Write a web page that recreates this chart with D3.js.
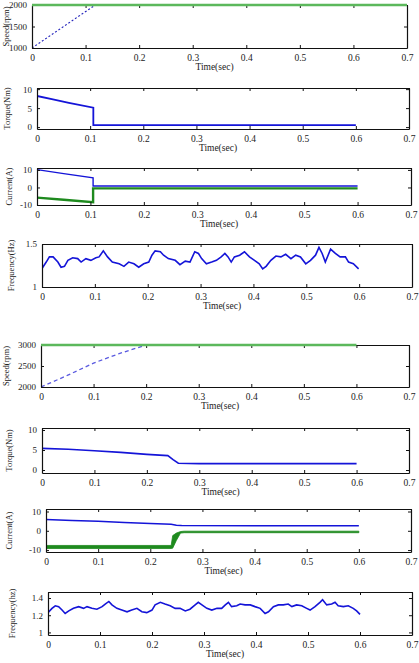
<!DOCTYPE html>
<html>
<head>
<meta charset="utf-8">
<script src="https://cdn.jsdelivr.net/npm/d3@7"></script>
<style>
body { margin: 0; background: #fff; }
svg { display: block; }
text { font-family: "Liberation Serif", "DejaVu Serif", serif; fill: #222; }
</style>
</head>
<body>
<svg id="svg1" width="419" height="663"></svg>
<script>
// x ticks shared by every panel
var timeTicks = [0, 0.1, 0.2, 0.3, 0.4, 0.5, 0.6, 0.7];

// case 1 : 1000 -> 2000 rpm
var speed1Time = [0, 0.118];
var speed1Val = [1000, 2000];
var speed1RefTime = [0, 0.7];
var speed1RefVal = [2000, 2000];

var torque1Time = [0, 0.03, 0.06, 0.106, 0.106, 0.6];
var torque1Val = [8.2, 7.3, 6.4, 5.1, 0.5, 0.5];

var current1Time = [0, 0.05, 0.105, 0.105, 0.6];
var current1BlueVal = [10.2, 7.9, 5.5, 0.8, 0.8];
var current1GreenVal = [-5.8, -7, -8.4, -0.5, -0.5];

var freq1Time = [0,0.008,0.014,0.021,0.03,0.036,0.0425,0.049,0.058,0.0675,0.074,0.083,0.0925,0.102,0.108,0.116,0.124,0.133,0.146,0.155,0.164,0.174,0.183,0.1925,0.202,0.208,0.214,0.224,0.23,0.239,0.252,0.261,0.271,0.28,0.289,0.296,0.302,0.311,0.321,0.33,0.339,0.346,0.352,0.358,0.364,0.374,0.383,0.3925,0.402,0.411,0.4175,0.424,0.433,0.4425,0.452,0.461,0.471,0.48,0.489,0.499,0.508,0.5175,0.524,0.53,0.536,0.546,0.555,0.564,0.574,0.58,0.589,0.599];
var freq1Val = [1.215,1.29,1.35,1.35,1.29,1.23,1.24,1.31,1.34,1.33,1.29,1.33,1.31,1.34,1.35,1.42,1.35,1.29,1.27,1.24,1.29,1.27,1.23,1.27,1.29,1.37,1.42,1.41,1.37,1.33,1.31,1.26,1.30,1.29,1.41,1.39,1.33,1.27,1.29,1.31,1.35,1.39,1.35,1.29,1.35,1.37,1.41,1.35,1.31,1.27,1.21,1.24,1.31,1.36,1.35,1.38,1.33,1.37,1.35,1.27,1.31,1.37,1.46,1.39,1.29,1.44,1.39,1.35,1.35,1.29,1.27,1.21];

// case 2 : 2000 -> 3000 rpm
var speed2Time = [0, 0.05, 0.1, 0.15, 0.2];
var speed2Val = [2000, 2275, 2570, 2800, 3000];
var speed2RefTime = [0, 0.6];
var speed2RefVal = [3000, 3000];

var torque2Time = [0, 0.05, 0.1, 0.15, 0.2, 0.24, 0.25, 0.26, 0.3, 0.4, 0.5, 0.6];
var torque2Val = [5.4, 5.2, 4.8, 4.4, 3.9, 3.6, 2.6, 1.7, 1.6, 1.6, 1.6, 1.6];

var current2BlueTime = [0, 0.05, 0.1, 0.15, 0.2, 0.24, 0.25, 0.26, 0.6];
var current2BlueVal = [5.8, 5.4, 4.9, 4.3, 3.8, 3.4, 2.9, 2.7, 2.6];
var current2GreenTime = [0, 0.24, 0.243, 0.25, 0.258, 0.265, 0.6];
var current2GreenLow = [-9.2, -9.2, -9, -5, -1.2, -1, -1];
var current2GreenHigh = [-7.6, -7.6, -2.5, -1.2, -0.4, -0.2, -0.2];

var freq2Time = [0,0.0077,0.014,0.0205,0.027,0.033,0.040,0.049,0.059,0.0685,0.075,0.0845,0.094,0.104,0.110,0.117,0.123,0.1325,0.142,0.152,0.161,0.171,0.1805,0.190,0.200,0.206,0.216,0.225,0.235,0.2445,0.254,0.264,0.273,0.283,0.289,0.296,0.3055,0.315,0.325,0.334,0.341,0.347,0.353,0.363,0.3695,0.379,0.389,0.398,0.408,0.4175,0.424,0.4335,0.443,0.4525,0.462,0.469,0.478,0.488,0.4975,0.504,0.5135,0.523,0.528,0.536,0.5455,0.552,0.558,0.568,0.5775,0.587,0.5935,0.600];
var freq2Val = [1.23,1.28,1.31,1.30,1.26,1.22,1.25,1.28,1.30,1.28,1.30,1.28,1.27,1.30,1.33,1.36,1.32,1.28,1.26,1.24,1.26,1.28,1.24,1.23,1.26,1.32,1.35,1.33,1.31,1.28,1.28,1.25,1.27,1.32,1.35,1.32,1.28,1.26,1.28,1.28,1.32,1.35,1.30,1.31,1.33,1.32,1.32,1.30,1.28,1.22,1.24,1.30,1.32,1.32,1.33,1.30,1.32,1.31,1.28,1.26,1.30,1.35,1.38,1.32,1.33,1.35,1.31,1.30,1.31,1.28,1.25,1.21];

var blue = "#1414d8";
var green = "#1e8a1e";
var lightGreen = "#5cb85c";

function zip(t, v) { return t.map(function(d, i) { return [d, v[i]]; }); }

// ref lines sit on the top border, so they are drawn without the clip
var panels = [
  { box: [32, 5, 407, 48], y: [1000, 2000], yTicks: [1000, 1500, 2000], yLabel: "Speed(rpm)", labelX: 7,
    refs: [ { d: zip(speed1RefTime, speed1RefVal), color: lightGreen, w: 2.5 } ],
    lines: [ { d: zip(speed1Time, speed1Val), color: "#2222bb", w: 1.2, dash: "2,2" } ] },
  { box: [37, 88, 409, 129], y: [-0.5, 10.3], yTicks: [0, 5, 10], yLabel: "Torque(Nm)", labelX: 8,
    lines: [ { d: zip(torque1Time, torque1Val), color: blue, w: 1.8 } ] },
  { box: [37, 168, 411, 205], y: [-10, 11.1], yTicks: [-10, 0, 10], yLabel: "Current(A)", labelX: 10,
    lines: [
      { d: zip(current1Time, current1BlueVal), color: blue, w: 1.4 },
      { d: zip(current1Time, current1GreenVal), color: green, w: 2.4 }
    ] },
  { box: [42, 244, 412, 287], y: [1, 1.5], yTicks: [1, 1.5], yLabel: "Frequency(Hz)", labelX: 12,
    lines: [ { d: zip(freq1Time, freq1Val), color: blue, w: 1.6 } ] },
  { box: [41, 345, 409, 387], y: [2000, 3000], yTicks: [2000, 2500, 3000], yLabel: "Speed(rpm)", labelX: 7,
    refs: [ { d: zip(speed2RefTime, speed2RefVal), color: lightGreen, w: 2.5 } ],
    lines: [ { d: zip(speed2Time, speed2Val), color: "#5a5ae0", w: 1.3, dash: "4,3" } ] },
  { box: [42, 428, 409, 473], y: [-0.75, 10.5], yTicks: [0, 5, 10], yLabel: "Torque(Nm)", labelX: 10,
    lines: [ { d: zip(torque2Time, torque2Val), color: blue, w: 1.6 } ] },
  { box: [46, 509, 411, 552], y: [-11, 11.3], yTicks: [-10, 0, 10], yLabel: "Current(A)", labelX: 10,
    band: { t: current2GreenTime, lo: current2GreenLow, hi: current2GreenHigh, color: green },
    lines: [ { d: zip(current2BlueTime, current2BlueVal), color: blue, w: 1.5 } ] },
  { box: [48, 592, 412, 635], y: [0.97, 1.47], yTicks: [1, 1.2, 1.4], yLabel: "Frequency(hz)", labelX: 13,
    lines: [ { d: zip(freq2Time, freq2Val), color: blue, w: 1.6 } ] }
];

var svg = d3.select("#svg1");

panels.forEach(function(p, pi) {
  var l = p.box[0], t = p.box[1], r = p.box[2], b = p.box[3];
  var x = d3.scaleLinear().domain([0, 0.7]).range([l, r]);
  var y = d3.scaleLinear().domain(p.y).range([b, t]);
  var g = svg.append("g");
  var line = d3.line().x(function(d) { return x(d[0]); }).y(function(d) { return y(d[1]); });

  g.append("clipPath").attr("id", "clip" + pi)
    .append("rect").attr("x", l).attr("y", t).attr("width", r - l).attr("height", b - t);

  var plot = g.append("g").attr("clip-path", "url(#clip" + pi + ")");

  if (p.band) {
    var bandData = p.band.t.map(function(d, i) { return { t: d, lo: p.band.lo[i], hi: p.band.hi[i] }; });
    plot.append("path").datum(bandData)
      .attr("fill", p.band.color)
      .attr("stroke", p.band.color)
      .attr("stroke-width", 0.8)
      .attr("d", d3.area().x(function(d) { return x(d.t); })
        .y0(function(d) { return y(d.lo); }).y1(function(d) { return y(d.hi); }));
  }

  p.lines.forEach(function(s) {
    plot.append("path").datum(s.d)
      .attr("fill", "none")
      .attr("stroke", s.color)
      .attr("stroke-width", s.w)
      .attr("stroke-dasharray", s.dash || null)
      .attr("d", line);
  });

  // MATLAB style box with inward ticks
  var bottomAxis = d3.axisBottom(x).tickValues(timeTicks).tickSizeInner(-3).tickSizeOuter(0).tickPadding(6)
    .tickFormat(function(d) { return d === 0 ? "0" : d3.format(".1f")(d); });
  var topAxis = d3.axisTop(x).tickValues(timeTicks).tickSizeInner(-3).tickSizeOuter(0).tickFormat("");
  var leftAxis = d3.axisLeft(y).tickValues(p.yTicks).tickSizeInner(-3).tickSizeOuter(0).tickPadding(5)
    .tickFormat(function(d) { return String(d); });
  var rightAxis = d3.axisRight(y).tickValues(p.yTicks).tickSizeInner(-3).tickSizeOuter(0).tickFormat("");

  var ax = g.append("g").attr("transform", "translate(0," + b + ")").call(bottomAxis);
  g.append("g").attr("transform", "translate(0," + t + ")").call(topAxis);
  var ay = g.append("g").attr("transform", "translate(" + l + ",0)").call(leftAxis);
  g.append("g").attr("transform", "translate(" + r + ",0)").call(rightAxis);

  g.selectAll(".domain").attr("stroke", "#111").attr("stroke-width", 1.2);
  g.selectAll(".tick line").attr("stroke", "#111");
  ax.selectAll("text").attr("font-size", 9.5).attr("font-family", "Liberation Serif").attr("fill", "#222");
  ay.selectAll("text").attr("font-size", 9).attr("font-family", "Liberation Serif").attr("fill", "#222");

  (p.refs || []).forEach(function(s) {
    g.append("path").datum(s.d)
      .attr("fill", "none")
      .attr("stroke", s.color)
      .attr("stroke-width", s.w)
      .attr("d", line);
  });

  g.append("text")
    .attr("x", (l + r) / 2 - 5)
    .attr("y", b + 22)
    .attr("text-anchor", "middle")
    .attr("font-size", 9.5)
    .text("Time(sec)");

  g.append("text")
    .attr("transform", "translate(" + p.labelX + "," + ((t + b) / 2) + ") rotate(-90)")
    .attr("text-anchor", "middle")
    .attr("dominant-baseline", "middle")
    .attr("font-size", 8.5)
    .text(p.yLabel);
});
</script>
</body>
</html>
